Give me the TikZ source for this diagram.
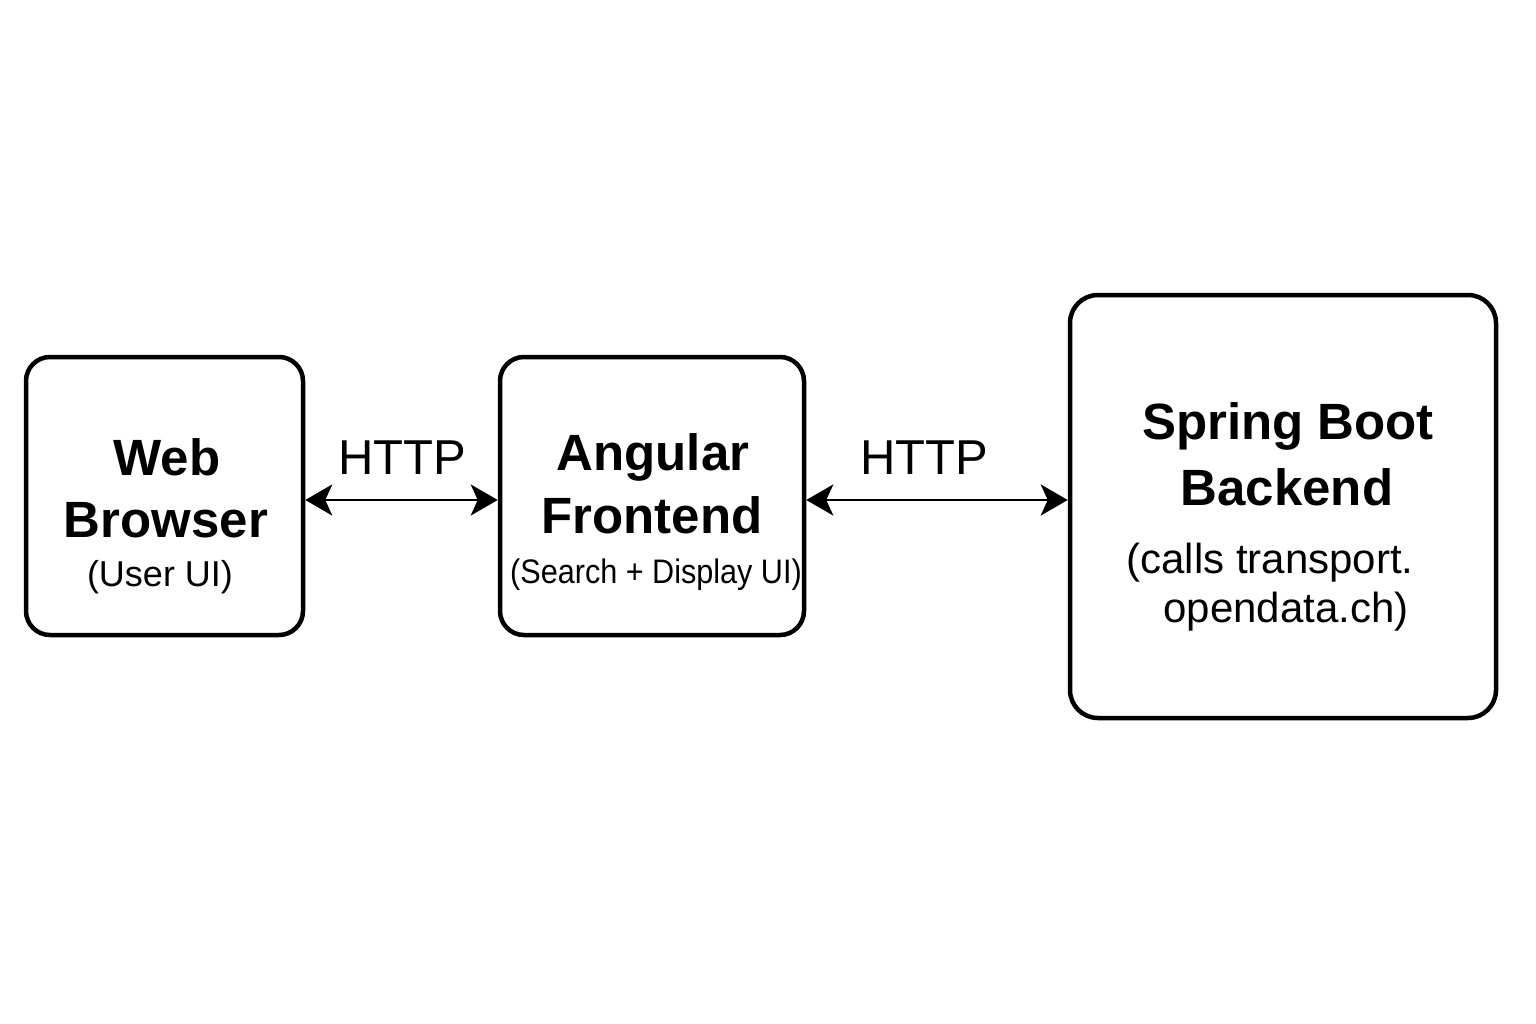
\documentclass[tikz,border=0pt]{standalone}
\usepackage{fontspec}
\setmainfont{Liberation Sans}
\usetikzlibrary{arrows.meta}
\begin{document}
\begin{tikzpicture}[x=1pt,y=-1pt,
  boxnode/.style={draw=black,line width=4.5pt,rounded corners=24pt,fill=white,inner sep=0pt},
  titletext/.style={anchor=base,font=\fontsize{51}{60}\selectfont\bfseries,inner sep=0pt},
  subtext/.style={anchor=base,font=\fontsize{36}{42}\selectfont,inner sep=0pt},
  httptext/.style={anchor=base,font=\fontsize{49}{56}\selectfont,inner sep=0pt},
  link/.style={line width=2.8pt,{Stealth[length=27pt,width=31pt,inset=7pt]}-{Stealth[length=27pt,width=31pt,inset=7pt]}}]
\useasboundingbox (0,0) rectangle (1536,1024);
\node[boxnode,minimum width=277pt,minimum height=278pt] (wb) at (164.5,496) {};
\node[boxnode,minimum width=304pt,minimum height=278pt] (af) at (652,496) {};
\node[boxnode,minimum width=426pt,minimum height=423pt,rounded corners=28pt] (sb) at (1283,506.5) {};
% box 1 text
\node[titletext] (wb1) at (167,475) {Web};
\node[titletext] (wb2) at (166,537) {Browser};
\node[subtext] (wb3) at (160,586) {(User UI)};
% box 2 text
\node[titletext] (af1) at (653,470) {Angular};
\node[titletext] (af2) at (652,533) {Frontend};
\node[subtext,font=\fontsize{34}{40}\selectfont] (af3) at (656,583) {\scalebox{0.9}[1]{(Search + Display UI)}};
% box 3 text
\node[titletext] (sb1) at (1288,439) {Spring Boot};
\node[titletext] (sb2) at (1287,505) {Backend};
\node[subtext,font=\fontsize{42}{48}\selectfont] (sb3) at (1270,573) {(calls transport.};
\node[subtext,font=\fontsize{42}{48}\selectfont] (sb4) at (1286,622) {opendata.ch)};
% connectors
\draw[link] (wb.east |- 0,500) -- (af.west |- 0,500);
\draw[link] (af.east |- 0,500) -- (sb.west |- 0,500);
\node[httptext] (h1) at (402,474) {HTTP};
\node[httptext] (h2) at (924,474) {HTTP};
\end{tikzpicture}
\end{document}
